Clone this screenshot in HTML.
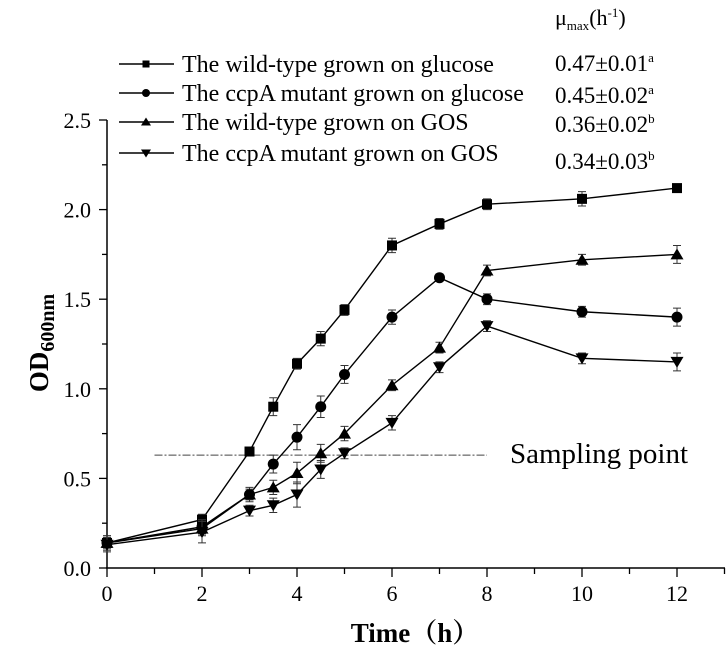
<!DOCTYPE html>
<html><head><meta charset="utf-8"><style>
body{margin:0;background:#fff}
svg text{font-family:"Liberation Serif",serif;fill:#000}
</style></head><body>
<svg id="chart" width="728" height="648" xmlns="http://www.w3.org/2000/svg">
<g id="axes"></g><g id="plot"></g><g id="legend"></g>
</svg>
<script>
const times=[0,2,3,3.5,4,4.5,5,6,7,8,10,12];
const wtGlucose=[0.14,0.27,0.65,0.90,1.14,1.28,1.44,1.80,1.92,2.03,2.06,2.12];
const ccpaGlucose=[0.14,0.23,0.41,0.58,0.73,0.90,1.08,1.40,1.62,1.50,1.43,1.40];
const wtGOS=[0.14,0.22,0.41,0.45,0.53,0.64,0.75,1.02,1.23,1.66,1.72,1.75];
const ccpaGOS=[0.13,0.20,0.32,0.35,0.41,0.55,0.64,0.81,1.12,1.35,1.17,1.15];
const errWtGlucose=[0.03,0.03,0.02,0.05,0.03,0.04,0.03,0.04,0.03,0.03,0.04,0.02];
const errCcpaGlucose=[0.04,0.04,0.04,0.05,0.07,0.06,0.05,0.04,0.02,0.03,0.03,0.05];
const errWtGOS=[0.04,0.04,0.03,0.04,0.06,0.05,0.04,0.03,0.03,0.03,0.03,0.05];
const errCcpaGOS=[0.04,0.06,0.03,0.04,0.07,0.05,0.03,0.04,0.03,0.03,0.03,0.05];
const seriesNames=["The wild-type grown on glucose","The ccpA mutant grown on glucose","The wild-type grown on GOS","The ccpA mutant grown on GOS"];
const muValues=["0.47±0.01","0.45±0.02","0.36±0.02","0.34±0.03"];
const muLetters=["a","a","b","b"];
const xTicks=[0,2,4,6,8,10,12];
const yTicks=[0.0,0.5,1.0,1.5,2.0,2.5];
const samplingOD=0.63, samplingStart=1, samplingEnd=8;

const NS="http://www.w3.org/2000/svg";
const X=v=>107+v*(677-107)/12;
const Y=v=>568-v*(568-120)/2.5;
function mk(tag,attrs,parent){const e=document.createElementNS(NS,tag);for(const k in attrs)e.setAttribute(k,attrs[k]);parent.appendChild(e);return e;}
const axes=document.getElementById('axes'),plot=document.getElementById('plot'),leg=document.getElementById('legend');

let a=mk('line',{x1:106,y1:568,x2:725,y2:568,stroke:'#000','stroke-width':1.5},axes);

a=mk('line',{x1:107,y1:568,x2:107,y2:120,stroke:'#000','stroke-width':1.5},axes);

for(let i=0;i<=13;i++){mk('line',{x1:X(i),y1:568,x2:X(i),y2:i%2?574:577,stroke:'#000','stroke-width':1.3},axes);}
xTicks.forEach(t=>{const e=mk('text',{x:X(t),y:601,'text-anchor':'middle','font-size':22},axes);e.textContent=t;
});
for(let i=0;i<=10;i++){const v=i*0.25;mk('line',{x1:107,y1:Y(v),x2:i%2?102:99,y2:Y(v),stroke:'#000','stroke-width':1.3},axes);}
yTicks.forEach(t=>{const e=mk('text',{x:91,y:Y(t)+8,'text-anchor':'end','font-size':22},axes);e.textContent=t.toFixed(1);
});
let t=mk('text',{x:415,y:642,'text-anchor':'middle','font-size':27,'font-weight':'bold'},axes);
t.innerHTML='Time（h）';t.style.fontFamily='"Liberation Serif","Noto Serif CJK SC",serif';

t=mk('text',{transform:'translate(48,343) rotate(-90)','text-anchor':'middle','font-size':27,'font-weight':'bold'},axes);
t.innerHTML='OD<tspan font-size="20" dy="6">600nm</tspan>';


let s=mk('line',{x1:X(samplingStart),y1:Y(samplingOD),x2:X(samplingEnd),y2:Y(samplingOD),stroke:'#444','stroke-width':1,'stroke-dasharray':'8 2 2 2'},plot);

t=mk('text',{x:510,y:463,'font-size':29},plot);t.textContent='Sampling point';


function marker(kind,x,y,p,sz){
 const r=sz||5;
 if(kind==0)return mk('rect',{x:x-r,y:y-r,width:2*r,height:2*r,fill:'#000'},p);
 if(kind==1)return mk('circle',{cx:x,cy:y,r:r+0.5,fill:'#000'},p);
 if(kind==2)return mk('polygon',{points:`${x},${y-r-1} ${x+r+1.5},${y+r} ${x-r-1.5},${y+r}`,fill:'#000'},p);
 return mk('polygon',{points:`${x},${y+r+1} ${x+r+1.5},${y-r} ${x-r-1.5},${y-r}`,fill:'#000'},p);
}
const data=[wtGlucose,ccpaGlucose,wtGOS,ccpaGOS],errs=[errWtGlucose,errCcpaGlucose,errWtGOS,errCcpaGOS];
const keys=['wt-glucose','ccpa-glucose','wt-gos','ccpa-gos'];
data.forEach((d,k)=>{
 const g=mk('g',{},plot);
 
 const l=mk('polyline',{points:d.map((v,i)=>X(times[i])+','+Y(v)).join(' '),fill:'none',stroke:'#000','stroke-width':1.4},g);
 
 d.forEach((v,i)=>{
  const x=X(times[i]),y1=Y(v+errs[k][i]),y2=Y(v-errs[k][i]);
  const e=mk('path',{d:`M${x},${y1}V${y2}M${x-4},${y1}H${x+4}M${x-4},${y2}H${x+4}`,stroke:'#333','stroke-width':1,fill:'none'},g);
  
  const m=marker(k,x,Y(v),g);
  
 });
});

t=mk('text',{x:555,y:25,'font-size':22},leg);t.innerHTML='μ<tspan font-size="13" dy="5">max</tspan><tspan dy="-5">(h</tspan><tspan font-size="13" dy="-8">-1</tspan><tspan dy="8">)</tspan>';

const legY=[64,93,122,153],muY=[71,103,132,169];
seriesNames.forEach((n,k)=>{
 const g=mk('g',{},leg);
 
 mk('line',{x1:119,y1:legY[k],x2:174,y2:legY[k],stroke:'#000','stroke-width':1.4},g);
 marker(k,146,legY[k],g,3.5);
 const tx=mk('text',{x:182,y:legY[k]+8,'font-size':24},g);tx.textContent=n;
 const mv=mk('text',{x:555,y:muY[k],'font-size':23},leg);
 mv.innerHTML=muValues[k]+'<tspan font-size="13" dy="-9">'+muLetters[k]+'</tspan>';
 
});
</script>
</body></html>
